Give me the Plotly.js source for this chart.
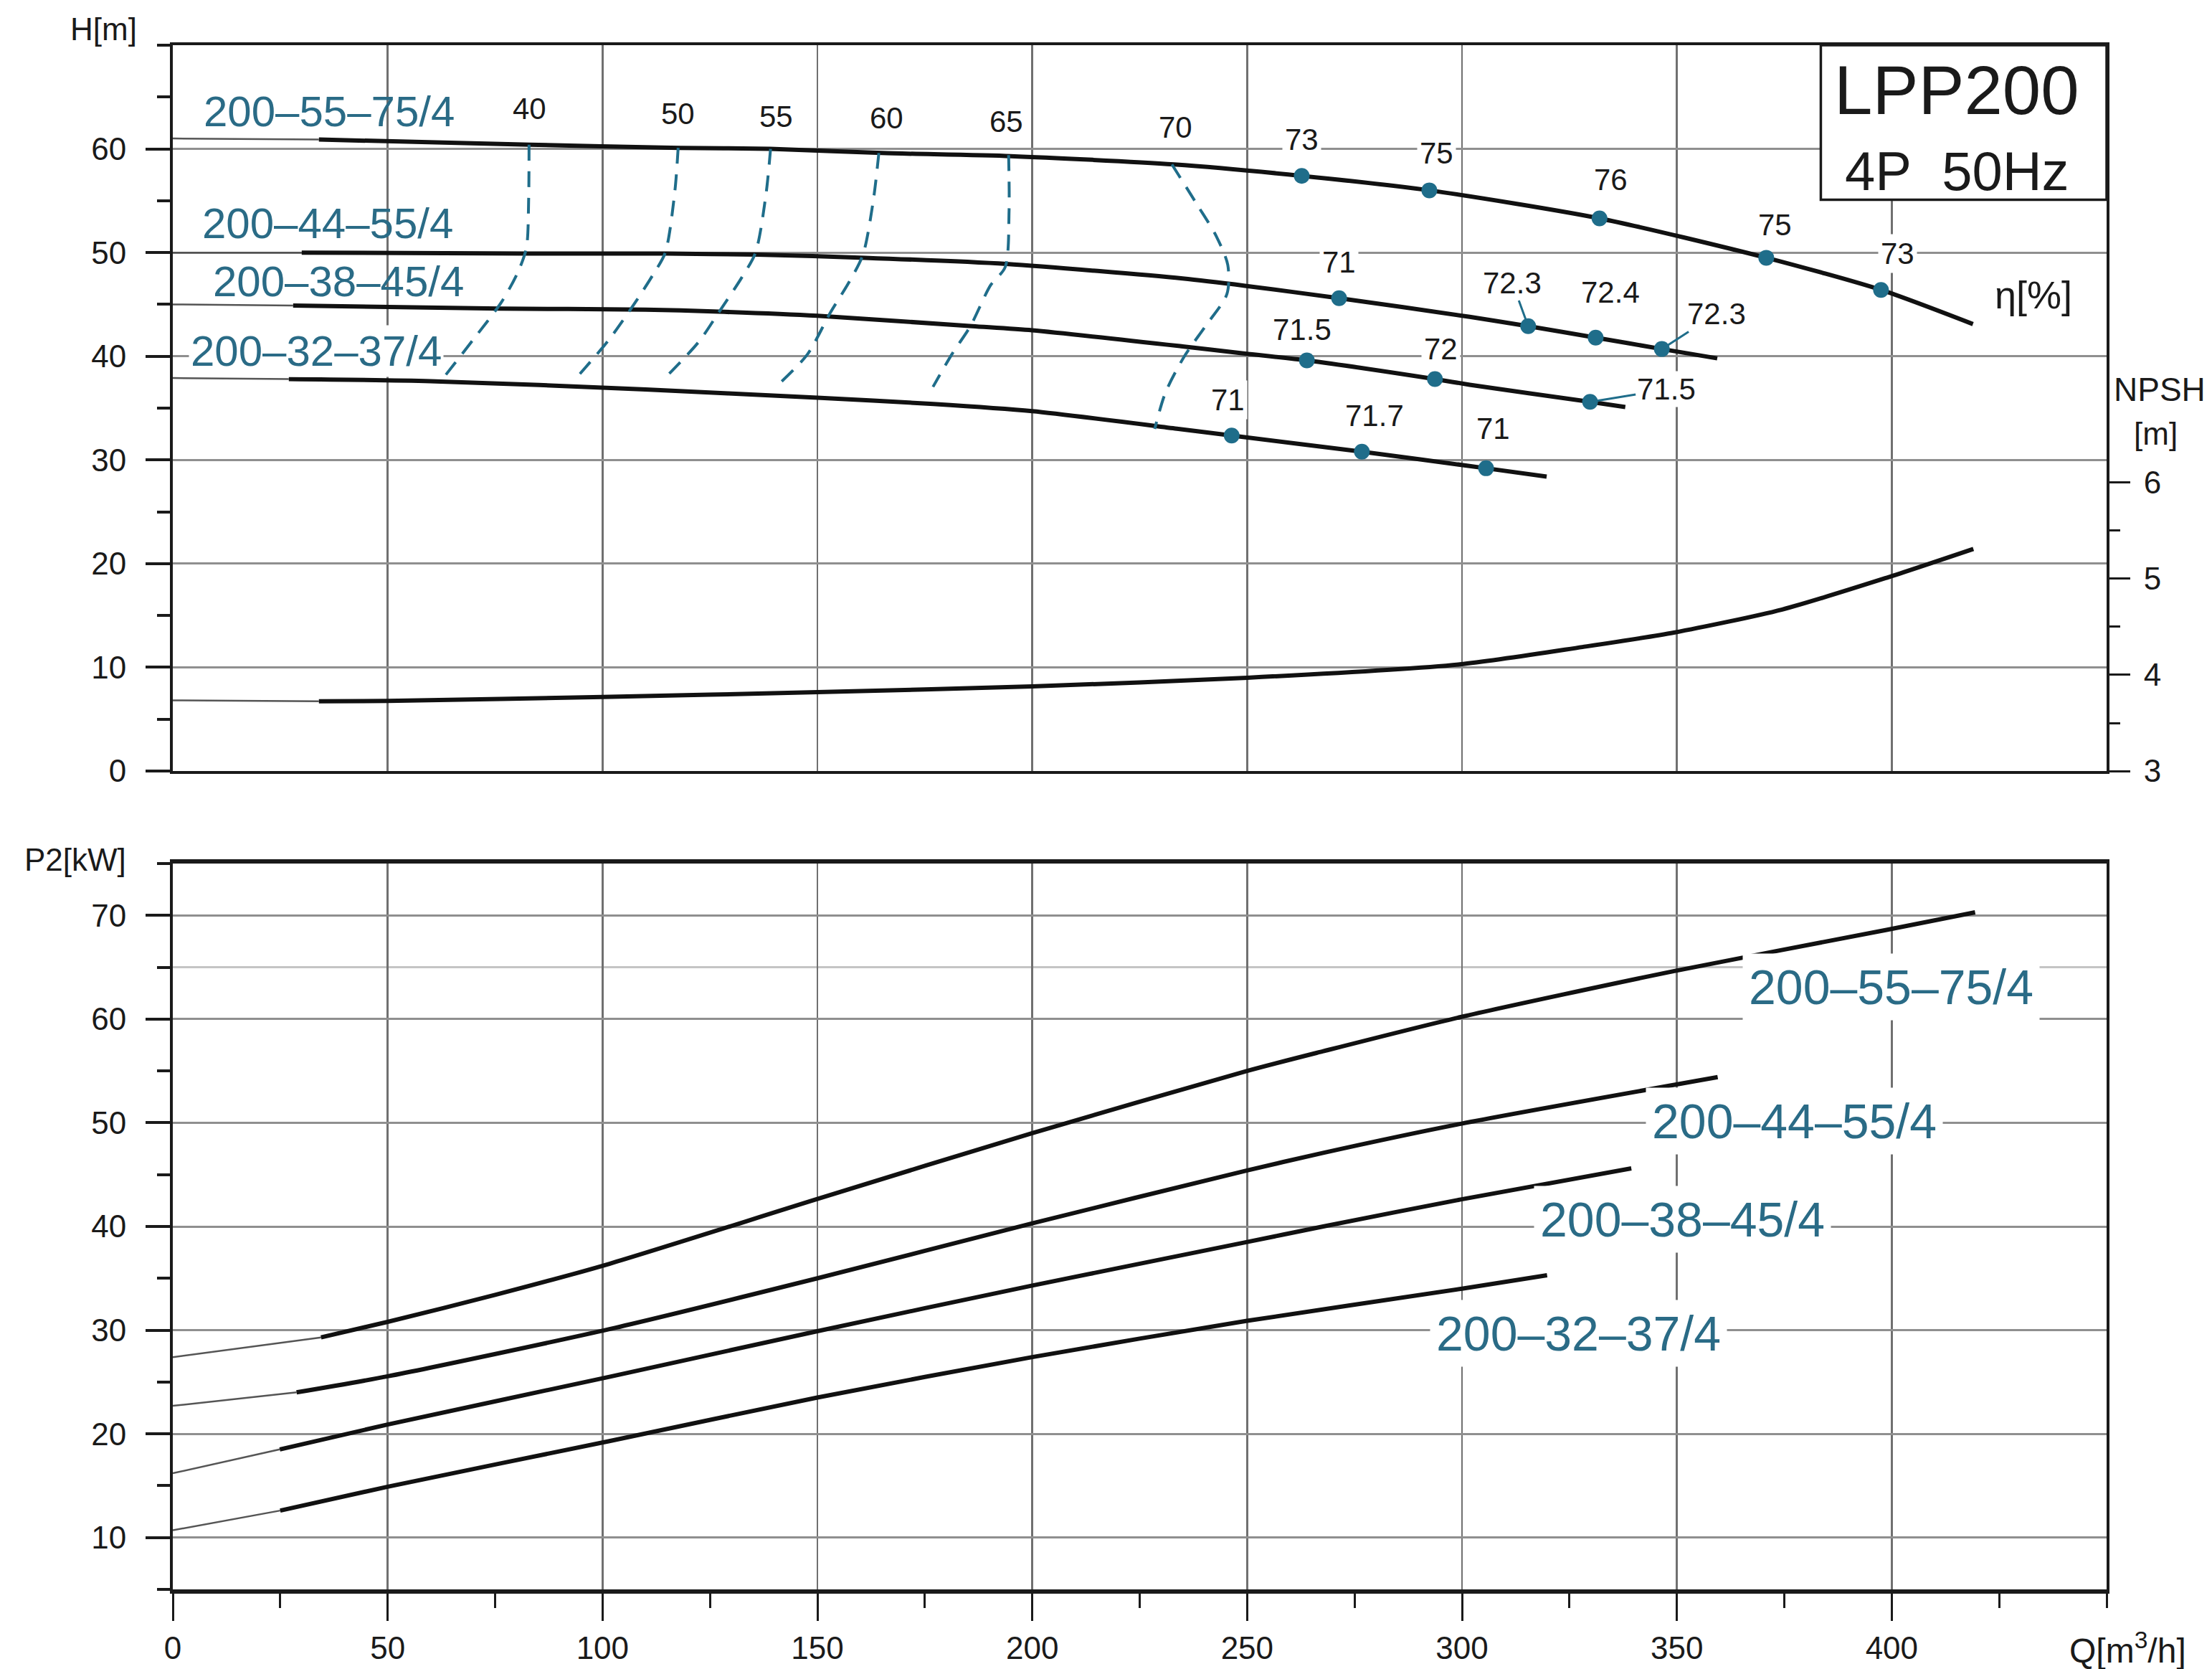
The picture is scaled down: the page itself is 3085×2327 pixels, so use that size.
<!DOCTYPE html>
<html><head><meta charset="utf-8">
<script src="https://cdn.plot.ly/plotly-3.0.1.min.js"></script>
<style>html,body{margin:0;padding:0;background:#fff}</style>
</head><body><div id="chart" style="width:3085px;height:2327px"></div>
<script>
// ---------- DATA ----------
const modelNames = ['200–55–75/4', '200–44–55/4', '200–38–45/4', '200–32–37/4'];

// H–Q curves (index 1 = start of the solid, thick part)
const hQ_55 = [0, 34, 83, 118, 139, 165, 195, 233, 262.7, 292.4, 332, 370.8, 397.5, 418.9];
const hH_55 = [61.0, 60.9, 60.4, 60.1, 60.0, 59.6, 59.3, 58.5, 57.4, 56.0, 53.3, 49.5, 46.4, 43.1];
const hQ_44 = [0, 30, 82, 115, 136, 161, 194, 235, 249.5, 271.4, 301.8, 315.4, 331.1, 346.5, 359.4];
const hH_44 = [50.0, 50.0, 49.9, 49.9, 49.8, 49.5, 48.9, 47.5, 46.8, 45.6, 43.8, 42.9, 41.8, 40.7, 39.8];
const hQ_38 = [0, 28, 76, 110, 127, 150, 186, 200, 235, 249.5, 263.9, 293.7, 301.8, 329.8, 338];
const hH_38 = [45.0, 44.9, 44.6, 44.5, 44.3, 43.9, 42.9, 42.5, 40.95, 40.26, 39.6, 37.8, 37.25, 35.6, 35.1];
const hQ_32 = [0, 27, 60, 110, 150, 177, 200, 234, 246.4, 276.7, 305.6, 319.7];
const hH_32 = [37.9, 37.8, 37.6, 36.8, 36.0, 35.4, 34.7, 33.0, 32.35, 30.8, 29.2, 28.4];

// NPSH curve (right axis)
const npshQ = [0, 34, 50, 100, 150, 200, 250, 299.5, 328, 349.3, 374.5, 398.8, 419];
const npshV = [3.735, 3.725, 3.73, 3.77, 3.82, 3.88, 3.97, 4.11, 4.29, 4.44, 4.68, 5.01, 5.31];

// P2–Q curves
const pQ_55 = [0, 34.5, 50, 75, 101.6, 150, 200, 250, 267.7, 299.7, 349, 398.8, 419.4];
const pP_55 = [27.4, 29.3, 30.8, 33.4, 36.4, 42.65, 49.0, 55.0, 56.9, 60.2, 64.6, 68.6, 70.3];
const pQ_44 = [0, 28.8, 50, 101.6, 150, 200, 250, 267.7, 299.7, 359.5];
const pP_44 = [22.7, 24.0, 25.55, 30.1, 35.0, 40.3, 45.4, 47.1, 49.9, 54.4];
const pQ_38 = [0, 24.9, 50, 101.6, 150, 200, 250, 267.7, 299.7, 339.4];
const pP_38 = [16.2, 18.5, 20.9, 25.5, 29.9, 34.3, 38.5, 40.0, 42.6, 45.6];
const pQ_32 = [0, 25, 50, 101.6, 150, 200, 250, 300, 319.8];
const pP_32 = [10.7, 12.6, 14.9, 19.3, 23.5, 27.4, 30.9, 34.0, 35.3];

// Efficiency points on the H–Q curves
const effQ_55 = [262.7, 292.4, 332, 370.8, 397.5];
const effH_55 = [57.4, 56.0, 53.3, 49.5, 46.4];
const effV_55 = ['73', '75', '76', '75', '73'];
const effQ_44 = [271.4, 315.4, 331.1, 346.5];
const effH_44 = [45.6, 42.9, 41.8, 40.7];
const effV_44 = ['71', '72.3', '72.4', '72.3'];
const effQ_38 = [263.9, 293.7, 329.8];
const effH_38 = [39.6, 37.8, 35.6];
const effV_38 = ['71.5', '72', '71.5'];
const effQ_32 = [246.4, 276.7, 305.6];
const effH_32 = [32.35, 30.8, 29.2];
const effV_32 = ['71', '71.7', '71'];

// Iso-efficiency dashed lines
const isoLabels = ['40', '50', '55', '60', '65', '70'];
const isoQ_40 = [82.9, 82.8, 82.3, 80.4, 76.6, 69.9, 63.5];
const isoH_40 = [60.4, 55.0, 50.5, 48.2, 45.3, 41.6, 38.2];
const isoQ_50 = [117.6, 116.8, 114.6, 111.8, 107.3, 101.5, 94.3];
const isoH_50 = [60.1, 55.8, 50.0, 47.9, 45.0, 41.6, 38.1];
const isoQ_55 = [139.1, 138.0, 135.6, 132.4, 127, 122.4, 114.3];
const isoH_55 = [60.0, 55.5, 50.0, 47.6, 44.2, 41.4, 37.8];
const isoQ_60 = [164.3, 163, 160.6, 157.3, 153, 147.7, 141.5];
const isoH_60 = [59.6, 55, 49.8, 47.1, 44.2, 40.2, 37.5];
const isoQ_65 = [194.5, 194.6, 193.7, 190.3, 185.6, 181.3, 176.9];
const isoH_65 = [59.4, 54, 48.6, 46.85, 42.9, 40.2, 37.05];
const isoQ_70 = [232.5, 238.4, 242.8, 245.5, 245.3, 240.3, 235.4, 231, 228.5];
const isoH_70 = [58.5, 54.6, 51.6, 48.8, 46.0, 42.9, 40.0, 36.5, 33.0];

// ---------- LABEL PLACEMENT ----------
const effLabQ_55 = [262.7, 294, 334.6, 372.8, 401.3];
const effLabH_55 = [60.9, 59.6, 57.0, 52.7, 49.9];
const effLabQ_44 = [271.4, 311.7, 334.6, 359.2];
const effLabH_44 = [49.1, 47.1, 46.2, 44.1];
const effLead_44 = [false, true, false, true];
const effLabQ_38 = [262.8, 295, 347.5];
const effLabH_38 = [42.6, 40.7, 36.8];
const effLead_38 = [false, false, true];
const effLabQ_32 = [245.5, 279.7, 307.3];
const effLabH_32 = [35.8, 34.3, 33.0];
const isoLabQ = [83.0, 117.6, 140.4, 166.1, 193.9, 233.4];
const isoLabH = [63.85, 63.4, 63.1, 62.95, 62.6, 62.1];
const topLabQ = [36.4, 36.1, 38.6, 33.3];
const topLabH = [63.6, 52.8, 47.2, 40.5];
const botLabQ = [399.8, 377.3, 351.3, 327.1];
const botLabP = [63.1, 50.2, 40.7, 29.7];

// ---------- BUILD ----------
const FONT = 'Liberation Sans, Arial, Helvetica, sans-serif';
const TEAL = '#1f6d8a';
const TEAL_TXT = '#2a6b86';
const INK = '#1a1a1a';
const traces = [];

function addCurve(q, v, xa, ya) {
  traces.push({x: q.slice(0, 2), y: v.slice(0, 2), xaxis: xa, yaxis: ya, mode: 'lines',
    line: {color: '#555', width: 2.5}, hoverinfo: 'skip', showlegend: false});
  traces.push({x: q.slice(1), y: v.slice(1), xaxis: xa, yaxis: ya, mode: 'lines',
    line: {color: '#111', width: 6, shape: 'spline', smoothing: 0.7}, hoverinfo: 'skip', showlegend: false});
}
addCurve(hQ_55, hH_55, 'x', 'y');
addCurve(hQ_44, hH_44, 'x', 'y');
addCurve(hQ_38, hH_38, 'x', 'y');
addCurve(hQ_32, hH_32, 'x', 'y');
addCurve(npshQ, npshV, 'x', 'y3');
addCurve(pQ_55, pP_55, 'x2', 'y2');
addCurve(pQ_44, pP_44, 'x2', 'y2');
addCurve(pQ_38, pP_38, 'x2', 'y2');
addCurve(pQ_32, pP_32, 'x2', 'y2');

const isoSets = [[isoQ_40, isoH_40], [isoQ_50, isoH_50], [isoQ_55, isoH_55], [isoQ_60, isoH_60], [isoQ_65, isoH_65], [isoQ_70, isoH_70]];
isoSets.forEach(s => traces.push({x: s[0], y: s[1], xaxis: 'x', yaxis: 'y', mode: 'lines',
  line: {color: TEAL, width: 4, dash: '22px,15px', shape: 'spline', smoothing: 0.8}, hoverinfo: 'skip', showlegend: false}));

const effSets = [
  [effQ_55, effH_55, effV_55, effLabQ_55, effLabH_55, null],
  [effQ_44, effH_44, effV_44, effLabQ_44, effLabH_44, effLead_44],
  [effQ_38, effH_38, effV_38, effLabQ_38, effLabH_38, effLead_38],
  [effQ_32, effH_32, effV_32, effLabQ_32, effLabH_32, null]
];
effSets.forEach(s => traces.push({x: s[0], y: s[1], xaxis: 'x', yaxis: 'y', mode: 'markers',
  marker: {color: TEAL, size: 22}, hoverinfo: 'skip', showlegend: false}));

const annotations = [];
effSets.forEach(s => {
  s[0].forEach((q, i) => {
    const lead = s[5] && s[5][i];
    if (lead) {
      annotations.push({x: q, y: s[1][i], xref: 'x', yref: 'y', ax: s[3][i], ay: s[4][i], axref: 'x', ayref: 'y',
        text: s[2][i], showarrow: true, arrowhead: 0, arrowwidth: 3, arrowcolor: TEAL, standoff: 4,
        font: {family: FONT, size: 42, color: INK}, bgcolor: '#fff', borderpad: 1});
    } else {
      annotations.push({x: s[3][i], y: s[4][i], xref: 'x', yref: 'y', text: s[2][i], showarrow: false,
        xanchor: 'center', yanchor: 'middle',
        font: {family: FONT, size: 42, color: INK}, bgcolor: '#fff', borderpad: 3});
    }
  });
});
isoLabels.forEach((t, i) => annotations.push({x: isoLabQ[i], y: isoLabH[i], xref: 'x', yref: 'y', text: t,
  xanchor: 'center', yanchor: 'middle', showarrow: false, font: {family: FONT, size: 42, color: INK}}));
modelNames.forEach((t, i) => annotations.push({x: topLabQ[i], y: topLabH[i], xref: 'x', yref: 'y', text: t,
  xanchor: 'center', yanchor: 'middle', showarrow: false, font: {family: FONT, size: 60, color: TEAL_TXT},
  bgcolor: i === 3 ? '#fff' : 'rgba(0,0,0,0)', borderpad: 2}));
modelNames.forEach((t, i) => annotations.push({x: botLabQ[i], y: botLabP[i], xref: 'x2', yref: 'y2', text: t,
  xanchor: 'center', yanchor: 'middle', showarrow: false, font: {family: FONT, size: 68, color: TEAL_TXT},
  bgcolor: '#fff', borderpad: 8}));

function lab(x, y, xref, yref, text, size) {
  annotations.push({x: x, y: y, xref: xref, yref: yref, text: text, showarrow: false,
    xanchor: 'center', yanchor: 'middle', font: {family: FONT, size: size, color: INK}});
}
lab(415.2, 65.7, 'x', 'y', 'LPP200', 96);
lab(415.2, 57.85, 'x', 'y', '4P\u00a0\u00a050Hz', 76);
lab(433, 45.95, 'x', 'y', 'η[%]', 54);
lab(1.0274, 6.97, 'paper', 'y3', 'NPSH', 46);
lab(1.0255, 6.51, 'paper', 'y3', '[m]', 44);
lab(-0.0356, 1.0105, 'paper', 'paper', 'H[m]', 44);
lab(-0.0504, 0.4724, 'paper', 'paper', 'P2[kW]', 44);
lab(1.011, -0.0379, 'paper', 'paper', 'Q[m<sup>3</sup>/h]', 48);

const range = (a, b, s) => { const r = []; for (let v = a; v <= b + 1e-9; v += s) r.push(v); return r; };

const layout = {
  width: 3085, height: 2327,
  margin: {l: 241, r: 147, t: 63, b: 111, pad: 0},
  paper_bgcolor: '#fff', plot_bgcolor: '#fff',
  font: {family: FONT, size: 44, color: INK},
  showlegend: false,
  xaxis: {domain: [0, 1], anchor: 'y', range: [0, 450], tickmode: 'array', tickvals: range(50, 400, 50),
    showticklabels: false, ticks: '', showgrid: true, gridcolor: '#707070', gridwidth: 2.5,
    showline: true, linecolor: INK, linewidth: 4, mirror: true, zeroline: false, automargin: false, fixedrange: true},
  yaxis: {domain: [0.52995, 1], anchor: 'x', range: [0, 70], tickmode: 'array', tickvals: range(0, 60, 10),
    ticks: 'outside', ticklen: 34, tickwidth: 4, tickcolor: INK, ticklabelstandoff: 18,
    tickfont: {family: FONT, size: 44, color: INK},
    minor: {tickmode: 'array', tickvals: range(5, 65, 10).concat([70]), ticks: 'outside', ticklen: 18, tickwidth: 4, tickcolor: INK, showgrid: false},
    showgrid: true, gridcolor: '#8f8f8f', gridwidth: 3, showline: true, linecolor: INK, linewidth: 4, mirror: true,
    zeroline: false, automargin: false, fixedrange: true},
  yaxis3: {overlaying: 'y', side: 'right', anchor: 'x', range: [3, 10.55], tickmode: 'array', tickvals: [3, 4, 5, 6],
    ticks: 'outside', ticklen: 30, tickwidth: 3, tickcolor: INK, ticklabelstandoff: 10,
    tickfont: {family: FONT, size: 44, color: INK},
    minor: {tickmode: 'array', tickvals: [3.5, 4.5, 5.5], ticks: 'outside', ticklen: 16, tickwidth: 3, tickcolor: INK, showgrid: false},
    showgrid: false, showline: true, linecolor: INK, linewidth: 3, zeroline: false, automargin: false, fixedrange: true},
  xaxis2: {domain: [0, 1], anchor: 'y2', range: [0, 450], tickmode: 'array', tickvals: range(0, 400, 50),
    ticks: 'outside', ticklen: 38, tickwidth: 3, tickcolor: INK, ticklabelstandoff: 0,
    tickfont: {family: FONT, size: 44, color: INK},
    minor: {tickmode: 'array', tickvals: range(25, 425, 50).concat([450]), ticks: 'outside', ticklen: 20, tickwidth: 3, tickcolor: INK, showgrid: false},
    showgrid: true, gridcolor: '#707070', gridwidth: 2.5, showline: true, linecolor: INK, linewidth: 6, mirror: true,
    zeroline: false, automargin: false, fixedrange: true},
  yaxis2: {domain: [0, 0.47004], anchor: 'x2', range: [5, 75], tickmode: 'array', tickvals: range(10, 70, 10),
    ticks: 'outside', ticklen: 34, tickwidth: 4, tickcolor: INK, ticklabelstandoff: 18,
    tickfont: {family: FONT, size: 44, color: INK},
    minor: {tickmode: 'array', tickvals: [5].concat(range(15, 75, 10)), ticks: 'outside', ticklen: 18, tickwidth: 4, tickcolor: INK, showgrid: false},
    showgrid: true, gridcolor: '#8f8f8f', gridwidth: 3, showline: true, linecolor: INK, linewidth: 4, mirror: true,
    zeroline: false, automargin: false, fixedrange: true},
  shapes: [
    {type: 'line', xref: 'x2', yref: 'y2', x0: 0, x1: 450, y0: 65, y1: 65, line: {color: '#c4c4c4', width: 3}, layer: 'below'},
    {type: 'rect', xref: 'x', yref: 'y', x0: 383.5, x1: 450, y0: 55.1, y1: 70, line: {color: INK, width: 3.5}, fillcolor: '#fff', layer: 'above'}
  ],
  annotations: annotations
};

Plotly.newPlot('chart', traces, layout, {staticPlot: true, displayModeBar: false});
</script>
</body></html>
